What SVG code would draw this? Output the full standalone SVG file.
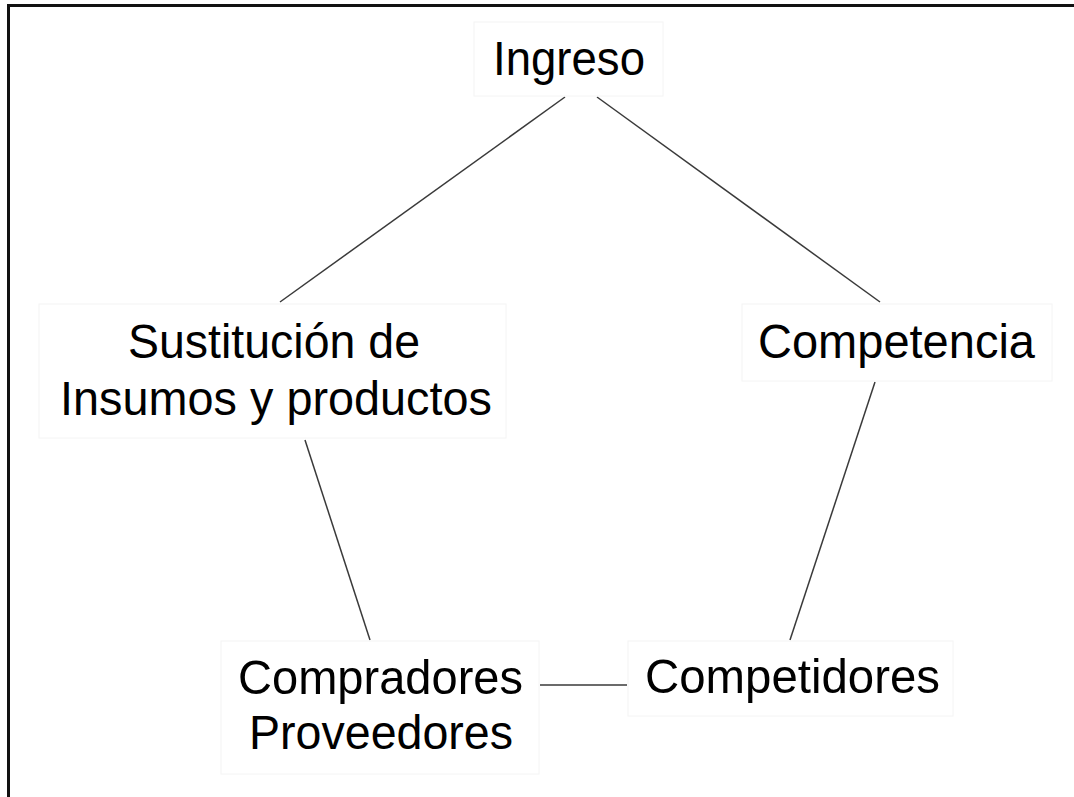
<svg xmlns="http://www.w3.org/2000/svg" width="1074" height="797" viewBox="0 0 1074 797">
<style>
.box{fill:#fff;stroke:#f4f4f4;stroke-width:1}
.t{font-family:"Liberation Sans",Arial,sans-serif;font-size:49px;fill:#000}
.c{stroke:#3a3a3a;stroke-width:1.5;fill:none}
</style>
<rect width="1074" height="797" fill="#fff"/>
<path d="M8.5,797 V5.5 H1074" fill="none" stroke="#111" stroke-width="3"/>
<g id="connectors">
<line class="c" x1="565" y1="97" x2="280" y2="302"/>
<line class="c" x1="597" y1="97" x2="880" y2="302"/>
<line class="c" x1="305" y1="440" x2="370" y2="640"/>
<line class="c" x1="875" y1="382" x2="790" y2="640"/>
<line class="c" x1="540" y1="685" x2="627" y2="685"/>
</g>
<g id="ingreso">
<rect class="box" x="474" y="22" width="189" height="74"/>
<text class="t" x="493" y="75" textLength="152" lengthAdjust="spacingAndGlyphs">Ingreso</text>
</g>
<g id="sustitucion">
<rect class="box" x="39" y="304" width="467" height="134"/>
<text class="t" x="128" y="358" textLength="292" lengthAdjust="spacingAndGlyphs">Sustitución de</text>
<text class="t" x="60" y="415" textLength="432" lengthAdjust="spacingAndGlyphs">Insumos y productos</text>
</g>
<g id="competencia">
<rect class="box" x="742" y="304" width="310" height="77"/>
<text class="t" x="758" y="358" textLength="277" lengthAdjust="spacingAndGlyphs">Competencia</text>
</g>
<g id="compradores">
<rect class="box" x="221" y="641" width="318" height="133"/>
<text class="t" x="238" y="694" textLength="285" lengthAdjust="spacingAndGlyphs">Compradores</text>
<text class="t" x="249" y="749" textLength="264" lengthAdjust="spacingAndGlyphs">Proveedores</text>
</g>
<g id="competidores">
<rect class="box" x="628" y="641" width="325" height="75"/>
<text class="t" x="645" y="693" textLength="295" lengthAdjust="spacingAndGlyphs">Competidores</text>
</g>
</svg>
